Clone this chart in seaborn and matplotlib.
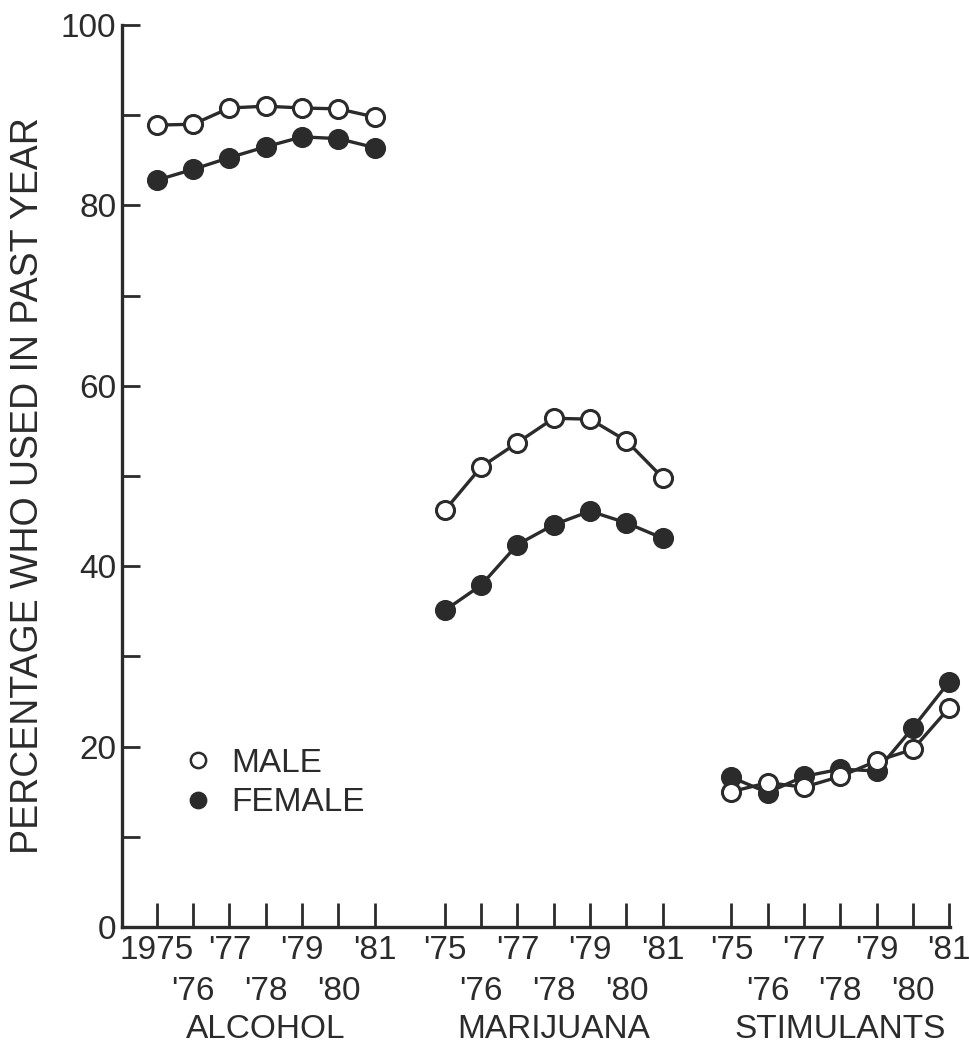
import numpy as np
import pandas as pd
import matplotlib
matplotlib.use("Agg")
import matplotlib.pyplot as plt
from matplotlib.lines import Line2D
import seaborn as sns

# ---- data ----
years = ["1975", "'76", "'77", "'78", "'79", "'80", "'81"]
drugs = ["ALCOHOL", "MARIJUANA", "STIMULANTS"]
alcohol_male = [88.9, 89.0, 90.8, 91.0, 90.8, 90.7, 89.8]
alcohol_female = [82.8, 84.0, 85.3, 86.5, 87.6, 87.4, 86.4]
marijuana_male = [46.2, 51.0, 53.7, 56.4, 56.3, 53.9, 49.8]
marijuana_female = [35.1, 37.9, 42.4, 44.6, 46.1, 44.8, 43.1]
stimulants_male = [15.0, 16.0, 15.5, 16.7, 18.4, 19.7, 24.3]
stimulants_female = [16.6, 14.9, 16.7, 17.5, 17.3, 22.1, 27.2]
group_start = [0.0, 7.93, 15.82]

values = {
    ("ALCOHOL", "MALE"): alcohol_male, ("ALCOHOL", "FEMALE"): alcohol_female,
    ("MARIJUANA", "MALE"): marijuana_male, ("MARIJUANA", "FEMALE"): marijuana_female,
    ("STIMULANTS", "MALE"): stimulants_male, ("STIMULANTS", "FEMALE"): stimulants_female,
}
rows = []
for g, d in enumerate(drugs):
    for sex in ["FEMALE", "MALE"]:
        for i, y in enumerate(values[(d, sex)]):
            rows.append(dict(drug=d, sex=sex, pos=group_start[g] + i, pct=y))
df = pd.DataFrame(rows)

sns.set_style("white")
plt.rcParams["font.family"] = ["Liberation Sans", "DejaVu Sans"]

INK = "#2b2b2b"
FS = 24
fig = plt.figure(figsize=(9.70, 10.51), dpi=100)
ax = fig.add_axes([122 / 970, 124 / 1051, (950 - 122) / 970, (927 - 25) / 1051])

for d in drugs:
    for sex in ["FEMALE", "MALE"]:
        sub = df[(df.drug == d) & (df.sex == sex)]
        sns.lineplot(data=sub, x="pos", y="pct", ax=ax, color=INK, lw=2.4,
                     marker="o", markersize=13, markeredgewidth=2.2,
                     markeredgecolor=INK,
                     markerfacecolor=("white" if sex == "MALE" else INK),
                     legend=False, zorder=3 if sex == "MALE" else 2)
for ln in ax.lines:
    ln.set_clip_on(False)

ax.set_xlim(-0.96, group_start[2] + 6 + 0.02)
ax.set_ylim(0, 100)

# x ticks: first row (major) and second row (minor)
maj_pos, maj_lab, min_pos, min_lab = [], [], [], []
for g in range(3):
    for i, yl in enumerate(years):
        lab = "'75" if (g > 0 and i == 0) else yl
        if i % 2 == 0:
            maj_pos.append(group_start[g] + i)
            maj_lab.append(lab)
        else:
            min_pos.append(group_start[g] + i)
            min_lab.append(lab)
ax.set_xticks(maj_pos)
ax.set_xticklabels(maj_lab, fontsize=FS, color=INK)
ax.set_xticks(min_pos, minor=True)
ax.set_xticklabels(min_lab, minor=True, fontsize=FS, color=INK)
ax.tick_params(axis="x", which="both", bottom=True, direction="in", length=17,
               width=2, color=INK)
ax.tick_params(axis="x", which="major", pad=6)
ax.tick_params(axis="x", which="minor", pad=35)

ax.set_yticks([0, 20, 40, 60, 80, 100])
ax.set_yticklabels(["0", "20", "40", "60", "80", "100"], fontsize=FS, color=INK)
ax.set_yticks([10, 30, 50, 70, 90], minor=True)
ax.tick_params(axis="y", which="both", left=True, direction="in", length=13,
               width=2, color=INK, pad=4)

for s in ["top", "right"]:
    ax.spines[s].set_visible(False)
for s in ["left", "bottom"]:
    ax.spines[s].set_linewidth(2.4)
    ax.spines[s].set_color(INK)

ax.set_xlabel("")
ax.set_ylabel("")

# group labels
for g, d in enumerate(drugs):
    ax.text(group_start[g] + 3, (927 - 1030) / (927 - 25), d,
            transform=ax.get_xaxis_transform(),
            ha="center", va="center", fontsize=FS, color=INK)

fig.text(28 / 970, 1 - 486 / 1051, "PERCENTAGE WHO USED IN PAST YEAR",
         rotation=90, ha="center", va="center", fontsize=27, color=INK)

handles = [
    Line2D([], [], ls="none", marker="o", markersize=11, markeredgewidth=1.8,
           markeredgecolor=INK, markerfacecolor="white"),
    Line2D([], [], ls="none", marker="o", markersize=11, markeredgewidth=1.8,
           markeredgecolor=INK, markerfacecolor=INK),
]
ax.legend(handles, ["MALE", "FEMALE"], loc="upper left",
          bbox_to_anchor=(185 / 970, 1 - 748 / 1051), bbox_transform=fig.transFigure,
          frameon=False, fontsize=FS, handlelength=0.8, handletextpad=0.6,
          labelspacing=0.25, borderpad=0, borderaxespad=0, labelcolor=INK)

fig.savefig("out.png", dpi=100, facecolor="white")
